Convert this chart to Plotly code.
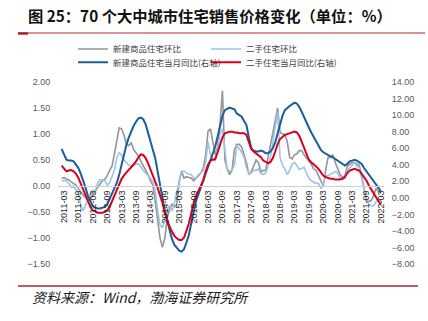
import plotly.graph_objects as go

# ---- categories (monthly, 2011-02 .. 2022-03) ----
months = []
for yr in range(2011, 2023):
    for mo in range(1, 13):
        lab = f"{yr}-{mo:02d}"
        if "2011-02" <= lab <= "2022-03":
            months.append(lab)

tick_labels = [m for m in months if m.endswith("-03") or m.endswith("-09")]

# ---- series ----
new_mom = [0.15, 0.16, 0.13, 0.12, 0.08, 0.05, 0.02, -0.05, -0.12, -0.18, -0.22,
           -0.28, -0.24, -0.18, -0.10, -0.03, 0.03, 0.10, 0.13, 0.20, 0.30,
           0.38, 0.62, 0.85, 1.12, 1.10, 0.98, 0.80, 0.78, 0.83, 0.70,
           0.64, 0.58, 0.48, 0.40, 0.30, 0.22, 0.10, 0.02, -0.30, -0.70,
           -1.00, -1.18, -1.00, -0.60, -0.45, -0.35, -0.40, -0.35, 0.10, 0.29,
           0.15, 0.18, 0.17, 0.15, 0.10, 0.15, 0.19, 0.25, 0.35, 0.60,
           1.05, 1.10, 0.85, 0.60, 0.75, 1.20, 1.83, 0.50, 0.32, 0.22,
           0.30, 0.70, 0.80, 0.80, 0.75, 0.60, 0.45, 0.22, 0.28, 0.38,
           0.50, 0.45, 0.27, 0.30, 0.30, 0.55, 0.80, 1.05, 1.25, 1.50,
           1.03, 1.00, 0.99, 0.85, 0.55, 0.52, 0.60, 0.62, 0.68, 0.68,
           0.60, 0.53, 0.48, 0.42, 0.33, 0.30, 0.20, 0.10, 0.00, 0.30,
           0.55, 0.55, 0.60, 0.45, 0.35, 0.22, 0.16, 0.20, 0.38, 0.42,
           0.45, 0.45, 0.42, 0.40, 0.20, -0.05, -0.28, -0.30, -0.28, -0.18,
           -0.05, -0.10, -0.13]

sec_mom = [0.10, 0.10, 0.10, 0.05, -0.02, 0.00, -0.08, -0.13, -0.38, -0.48, -0.35,
           -0.25, -0.15, -0.08, -0.10, 0.05, 0.12, 0.12, 0.10, 0.02, 0.06,
           0.18, 0.30, 0.55, 0.64, 0.60, 0.50, 0.45, 0.40, 0.38, 0.40,
           0.42, 0.42, 0.38, 0.30, 0.25, 0.22, 0.15, 0.08, -0.08, -0.45,
           -0.75, -0.80, -0.65, -0.45, -0.38, -0.48, -0.32, -0.10, 0.10, 0.26,
           0.29, 0.25, 0.22, 0.22, 0.15, 0.16, 0.22, 0.25, 0.30, 0.45,
           0.85, 0.60, 0.52, 0.48, 0.70, 0.99, 1.10, 0.67, 0.32, 0.29,
           0.30, 0.40, 0.77, 0.72, 0.65, 0.55, 0.35, 0.24, 0.25, 0.30,
           0.30, 0.33, 0.24, 0.22, 0.25, 0.38, 0.55, 0.85, 1.10, 1.42,
           0.55, 0.40, 0.33, 0.22, 0.30, 0.42, 0.45, 0.40, 0.32, 0.34,
           0.36, 0.25, 0.15, 0.10, 0.07, 0.05, 0.05, -0.05, 0.05, 0.20,
           0.20, 0.22, 0.25, 0.28, 0.25, 0.15, 0.13, 0.15, 0.30, 0.35,
           0.40, 0.45, 0.38, 0.35, 0.15, -0.05, -0.28, -0.35, -0.38, -0.38,
           -0.30, -0.28, -0.28]

new_yoy = [5.9, 5.2, 4.6, 4.5, 4.5, 4.4, 4.0, 3.6, 2.9, 2.1, 1.2,
           0.2, -0.5, -1.0, -1.2, -1.3, -1.3, -1.2, -1.1, -0.8, -0.2,
           0.4, 1.2, 1.8, 2.8, 4.0, 5.4, 6.4, 7.3, 8.1, 8.7,
           9.2, 9.6, 9.7, 9.5, 8.9, 7.9, 7.0, 6.1, 4.8, 3.2,
           1.5, 0.0, -1.6, -2.8, -4.1, -5.0, -5.7, -6.1, -6.4, -6.5,
           -6.2, -5.4, -4.5, -3.1, -1.6, -0.4, 0.4, 1.2, 2.1, 3.0,
           3.8, 4.6, 5.3, 6.2, 7.4, 8.8, 9.9, 10.6, 10.8, 10.9,
           10.8, 10.7, 10.2, 10.0, 9.8, 9.3, 8.8, 7.3, 6.0, 5.7,
           5.6, 5.6, 5.7, 5.6, 5.4, 5.4, 5.6, 6.0, 6.7, 7.8,
           8.9, 9.9, 10.6, 10.9, 11.1, 11.3, 11.5, 11.4, 11.0, 10.4,
           9.7, 9.1, 8.5, 7.9, 7.4, 6.9, 6.3, 5.8, 5.5, 5.3,
           5.2, 5.0, 4.9, 4.7, 4.5, 4.3, 4.1, 3.9, 4.1, 4.4,
           4.5, 4.6, 4.5, 4.3, 4.1, 3.6, 3.2, 2.8, 2.5, 2.1,
           1.7, 1.3, 0.8]

sec_yoy = [3.9, 3.5, 3.2, 3.3, 3.35, 3.2, 2.9, 2.4, 1.8, 1.0, 0.3,
           -0.4, -1.1, -1.5, -1.7, -1.8, -1.8, -1.8, -1.7, -1.5, -1.1,
           -0.4, 0.4, 1.0, 1.8, 2.3, 2.7, 3.1, 3.4, 3.7, 4.0,
           4.4, 4.9, 5.25, 5.2, 4.8, 4.2, 3.5, 2.8, 2.0, 1.2,
           0.3, -0.6, -1.8, -2.8, -3.5, -4.1, -4.6, -4.9, -5.1, -5.1,
           -4.8, -4.0, -3.1, -1.9, -0.6, 0.2, 0.9, 1.5, 2.1, 3.2,
           4.0, 4.5, 4.6, 4.7, 5.5, 6.3, 7.3, 7.8, 7.9, 8.0,
           8.0, 7.9, 7.9, 7.8, 7.8, 7.8, 7.6, 6.6, 5.9, 5.6,
           5.4, 5.2, 4.9, 4.5, 4.3, 4.2, 4.3, 4.8, 5.6, 6.5,
           7.1, 7.4, 7.6, 7.7, 7.8, 7.9, 8.0, 7.9, 7.5, 6.8,
           6.0, 5.3, 4.6, 4.3, 4.1, 3.8, 3.5, 3.1, 2.7, 2.5,
           2.4, 2.3, 2.3, 2.2, 2.2, 2.2, 2.3, 2.5, 3.0, 3.3,
           3.4, 3.5, 3.4, 3.3, 2.9, 2.5, 2.1, 1.5, 1.0, 0.5,
           0.1, -0.4, -0.8]

names = ["新建商品住宅环比", "二手住宅环比", "新建商品住宅当月同比(右轴)", "二手住宅当月同比(右轴)"]
colors = ["#959595", "#9DC3E6", "#1A5E9E", "#D9001B"]

CJK = "Noto Sans CJK SC"
fig = go.Figure()
fig.add_trace(go.Scatter(x=months, y=new_mom, name=names[0], mode="lines",
                         line=dict(color=colors[0], width=1.6), yaxis="y", legend="legend"))
fig.add_trace(go.Scatter(x=months, y=sec_mom, name=names[1], mode="lines",
                         line=dict(color=colors[1], width=1.6), yaxis="y", legend="legend"))
fig.add_trace(go.Scatter(x=months, y=new_yoy, name=names[2], mode="lines",
                         line=dict(color=colors[2], width=2), yaxis="y2", legend="legend2"))
fig.add_trace(go.Scatter(x=months, y=sec_yoy, name=names[3], mode="lines",
                         line=dict(color=colors[3], width=2), yaxis="y2", legend="legend2"))

W, H = 428, 321
L, R, T, B = 58, 44, 82, 57
pw, ph = W - L - R, H - T - B

def px(x):
    return (x - L) / pw

def py(y):
    return (H - B - y) / ph

ymin, ymax = -1.5, 2.0
tickfont = dict(family="Liberation Sans, Arial", size=9, color="#595959")

leg_common = dict(orientation="h", xanchor="left", yanchor="middle",
                  font=dict(family=CJK, size=8.5, color="#404040"),
                  bgcolor="rgba(0,0,0,0)", borderwidth=0,
                  entrywidth=88, entrywidthmode="pixels", itemwidth=30,
                  traceorder="normal", tracegroupgap=0)

fig.update_layout(
    width=W, height=H,
    margin=dict(l=L, r=R, t=T, b=B),
    paper_bgcolor="white", plot_bgcolor="white",
    showlegend=True,
    legend=dict(x=px(73), y=py(49), **leg_common),
    legend2=dict(x=px(73), y=py(62.3), **leg_common),
    title=dict(text="<b>图 25：70 个大中城市住宅销售价格变化（单位：%）</b>",
               x=28 / W, xanchor="left", xref="container",
               y=1 - 17 / H, yanchor="middle", yref="container",
               font=dict(family=CJK, size=15.3, color="#111111")),
    xaxis=dict(type="category", range=[-1.5, 134.3],
               anchor="free", position=(0 - ymin) / (ymax - ymin),
               showline=True, linecolor="#d0d0d0", linewidth=1,
               showgrid=False, zeroline=False, ticks="",
               tickmode="array", tickvals=tick_labels, ticktext=tick_labels,
               tickangle=-90, tickfont=dict(family="Liberation Sans, Arial", size=9, color="#262626")),
    yaxis=dict(range=[ymin, ymax], dtick=0.5, tick0=0, tickformat=".2f",
               showgrid=False, zeroline=False, showline=False,
               ticks="outside", ticklen=5, tickcolor="rgba(0,0,0,0)",
               tickfont=tickfont),
    yaxis2=dict(range=[-8, 14], dtick=2, tick0=0, tickformat=".2f",
                overlaying="y", side="right",
                showgrid=False, zeroline=False, showline=False,
                ticks="outside", ticklen=5, tickcolor="rgba(0,0,0,0)",
                tickfont=tickfont),
    shapes=[
        dict(type="line", xref="paper", yref="paper", x0=px(18), x1=px(425), y0=py(33), y1=py(33),
             line=dict(color="#A8282C", width=1)),
        dict(type="line", xref="paper", yref="paper", x0=px(18), x1=px(28), y0=py(33.5), y1=py(33.5),
             line=dict(color="#A8282C", width=2.5)),
        dict(type="line", xref="paper", yref="paper", x0=px(18), x1=px(418), y0=py(286), y1=py(286),
             line=dict(color="#A8282C", width=1.5)),
    ],
    annotations=[
        dict(text="<i>资料来源：Wind，渤海证券研究所</i>", xref="paper", yref="paper",
             x=px(30), y=py(297), xanchor="left", yanchor="middle", showarrow=False,
             font=dict(family=CJK, size=14, color="#1a1a1a")),
    ],
)

fig.write_html("out.html")
